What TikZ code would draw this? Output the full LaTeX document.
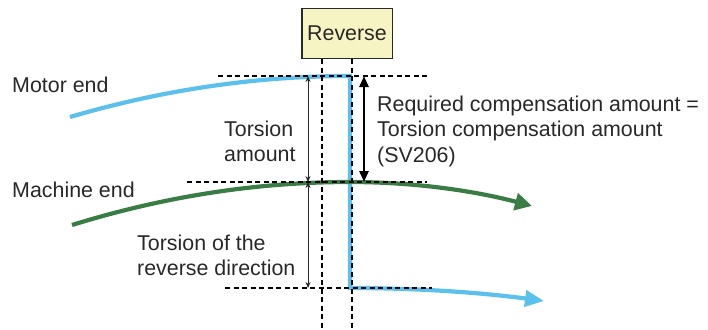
\documentclass[tikz,border=0pt]{standalone}
\usepackage{fontspec}
\setmainfont{Liberation Sans}
\usetikzlibrary{arrows.meta}
\definecolor{motorblue}{RGB}{91,192,235}
\definecolor{machgreen}{RGB}{58,125,68}
\definecolor{txt}{RGB}{40,40,40}
\definecolor{boxfill}{RGB}{247,244,196}
\begin{document}
\begin{tikzpicture}[x=1pt,y=-1pt,
  lbl/.style={font=\fontsize{21.4}{25.5}\selectfont, text=txt, inner sep=0pt, align=left},
  guide/.style={black, line width=1.6pt, dash pattern=on 5pt off 3.5pt},
  curve/.style={line width=4.2pt},
  thinarr/.style={{Stealth[length=6pt,width=5pt]}-{Stealth[length=6pt,width=5pt]}, line width=0.8pt, black!85},
  thickarr/.style={{Triangle[length=11pt,width=9pt]}-{Triangle[length=11pt,width=9pt]}, line width=2.6pt, black}]
\useasboundingbox (0,0) rectangle (708,329);

% reverse box
\node[draw=txt, fill=boxfill, line width=1.5pt, minimum width=90.5pt, minimum height=49.5pt,
      inner sep=0pt, font=\fontsize{21.4}{25.5}\selectfont, text=txt] (rev) at (347,33.5) {Reverse};

% key points
\coordinate (bStart) at (70,117);
\coordinate (bTop) at (350,76);
\coordinate (bBot) at (350,288);
\coordinate (bEnd) at (544,301);
\coordinate (gStart) at (72,225);
\coordinate (gPeak) at (350,182);
\coordinate (gEnd) at (532,206);

% curves
\draw[curve, motorblue, -{Triangle[length=19pt,width=16pt]}]
  (bStart) .. controls (163,89.7) and (256.7,76) .. (bTop) -- (bBot)
  .. controls (414.7,288) and (479.3,292.3) .. (bEnd);
\draw[curve, machgreen, -{Triangle[length=17pt,width=17pt]}]
  (gStart) .. controls (164.7,196.3) and (257.3,182) .. (gPeak)
  .. controls (410.7,182) and (471.3,190) .. (gEnd);

% guide lines
\coordinate (h1a) at (218,76);  \coordinate (h1b) at (427,76);
\coordinate (h2a) at (187,182); \coordinate (h2b) at (427,182);
\coordinate (h3a) at (225,288); \coordinate (h3b) at (432,288);
\coordinate (v1a) at (322,59);  \coordinate (v1b) at (322,329);
\coordinate (v2a) at (352,59);  \coordinate (v2b) at (352,329);
\draw[guide] (h1a) -- (h1b);
\draw[guide] (h2a) -- (h2b);
\draw[guide] (h3a) -- (h3b);
\draw[guide] (v1a) -- (v1b);
\draw[guide] (v2a) -- (v2b);

% dimension arrows
\coordinate (t1) at (308,76);
\coordinate (t2) at (308,182);
\coordinate (t3) at (308,288);
\coordinate (k1) at (364,76);
\coordinate (k2) at (364,182);
\draw[thinarr] (t1) -- (t2);
\draw[thinarr] (t2) -- (t3);
\draw[thickarr] (k1) -- (k2);

% labels (base anchor = baseline of the last line)
\node[lbl, anchor=base west] (motor) at (12,92.5) {Motor end};
\node[lbl, anchor=base west] (mach) at (12,197.5) {Machine end};
\node[lbl, anchor=base west] (tors) at (224,161.7) {Torsion\\amount};
\node[lbl, anchor=base west] (rdir) at (137,275.5) {Torsion of the\\reverse direction};
\node[lbl, anchor=base west] (req) at (377,162) {Required compensation amount =\\Torsion compensation amount\\(SV206)};
\end{tikzpicture}
\end{document}
